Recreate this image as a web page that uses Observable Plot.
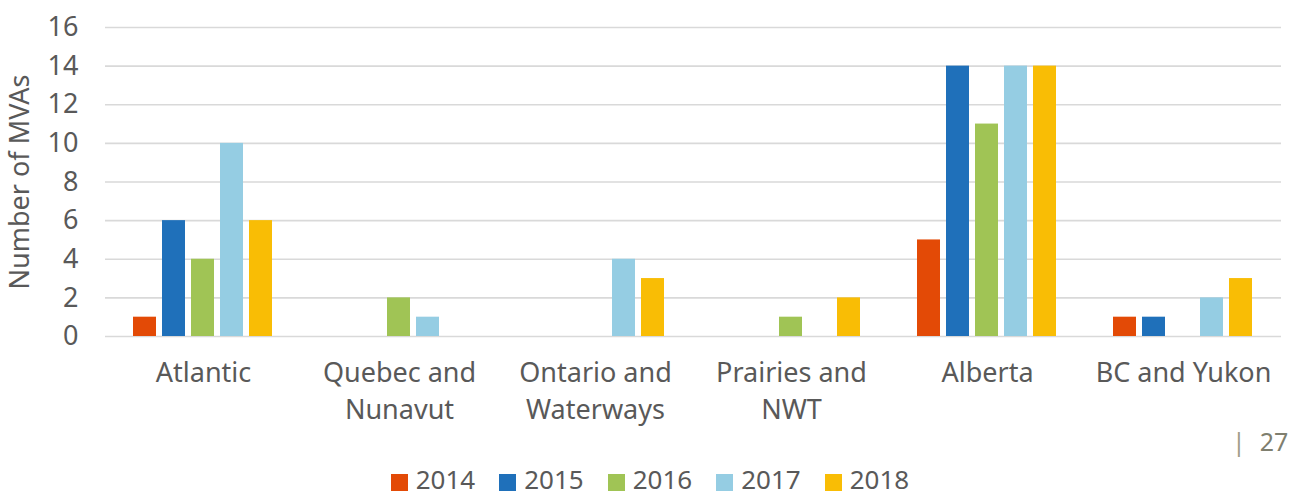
<!DOCTYPE html>
<html><head><meta charset="utf-8">
<script src="https://cdn.jsdelivr.net/npm/d3@7"></script>
<script src="https://cdn.jsdelivr.net/npm/@observablehq/plot@0.6"></script>
<style>
body{margin:0;background:#fff;font-family:"Noto Sans",sans-serif;}
#wrap{position:relative;width:1290px;height:497px;overflow:hidden;}
#legend{position:absolute;left:0;top:466px;width:1290px;box-sizing:border-box;padding-left:10px;display:flex;justify-content:center;align-items:center;font-size:26px;line-height:1;color:#595959;}
.item{display:flex;align-items:center;margin:0 12px;}
.sw{width:17px;height:17px;margin-right:8px;margin-top:6px;}
#page{position:absolute;left:1232px;top:424px;font-size:25px;color:#7f7f6f;}
#page .bar{color:#a09d88;margin-right:14px;}
</style></head><body><div id="wrap"><div id="chart"></div><div id="legend"></div><div id="page"><span class="bar">|</span>27</div></div>
<script>
const regions = ["Atlantic","Quebec and Nunavut","Ontario and Waterways","Prairies and NWT","Alberta","BC and Yukon"];
const regionLabels = ["Atlantic","Quebec and\nNunavut","Ontario and\nWaterways","Prairies and\nNWT","Alberta","BC and Yukon"];
const years = ["2014","2015","2016","2017","2018"];
const colors = ["#e34a06","#1f70ba","#a0c455","#95cde3","#f9bd05"];
const v2014 = [1,0,0,0,5,1];
const v2015 = [6,0,0,0,14,1];
const v2016 = [4,2,0,1,11,0];
const v2017 = [10,1,4,0,14,2];
const v2018 = [6,0,3,2,14,3];
const yTicks = [0,2,4,6,8,10,12,14,16];

const series = [v2014,v2015,v2016,v2017,v2018];
const data = [];
years.forEach((yr,i)=>regions.forEach((r,j)=>{ if (series[i][j] > 0) data.push({region:r, year:yr, value:series[i][j]}); }));

const chart = Plot.plot({
  width:1290, height:440,
  marginTop:27, marginBottom:104, marginLeft:104, marginRight:9,
  fx:{domain:regions, padding:0, label:null},
  x:{domain:years, paddingInner:0.2, paddingOuter:0.87, axis:null},
  y:{domain:[0,16]},
  color:{domain:years, range:colors},
  style:{fontFamily:'"Noto Sans",sans-serif', fontSize:"27px", color:"#595959", background:"#fff"},
  marks:[
    Plot.ruleY(yTicks,{stroke:"#d9d9d9", strokeWidth:1.6}),
    Plot.barY(data,{fx:"region", x:"year", y:"value", fill:"year"}),
    Plot.axisY(yTicks,{tickSize:0, tickPadding:27, fontSize:27, label:"Number of MVAs", labelAnchor:"center", labelArrow:"none", labelOffset:96}),
    Plot.axisFx({anchor:"bottom", tickSize:0, tickPadding:19, fontSize:27, lineHeight:1.37, label:null, tickFormat:d=>regionLabels[regions.indexOf(d)]})
  ]
});
document.getElementById("chart").appendChild(chart);

const lg = d3.select("#legend");
years.forEach((yr,i)=>{
  const it = lg.append("div").attr("class","item");
  it.append("div").attr("class","sw").style("background",colors[i]);
  it.append("span").text(yr);
});
</script></body></html>
